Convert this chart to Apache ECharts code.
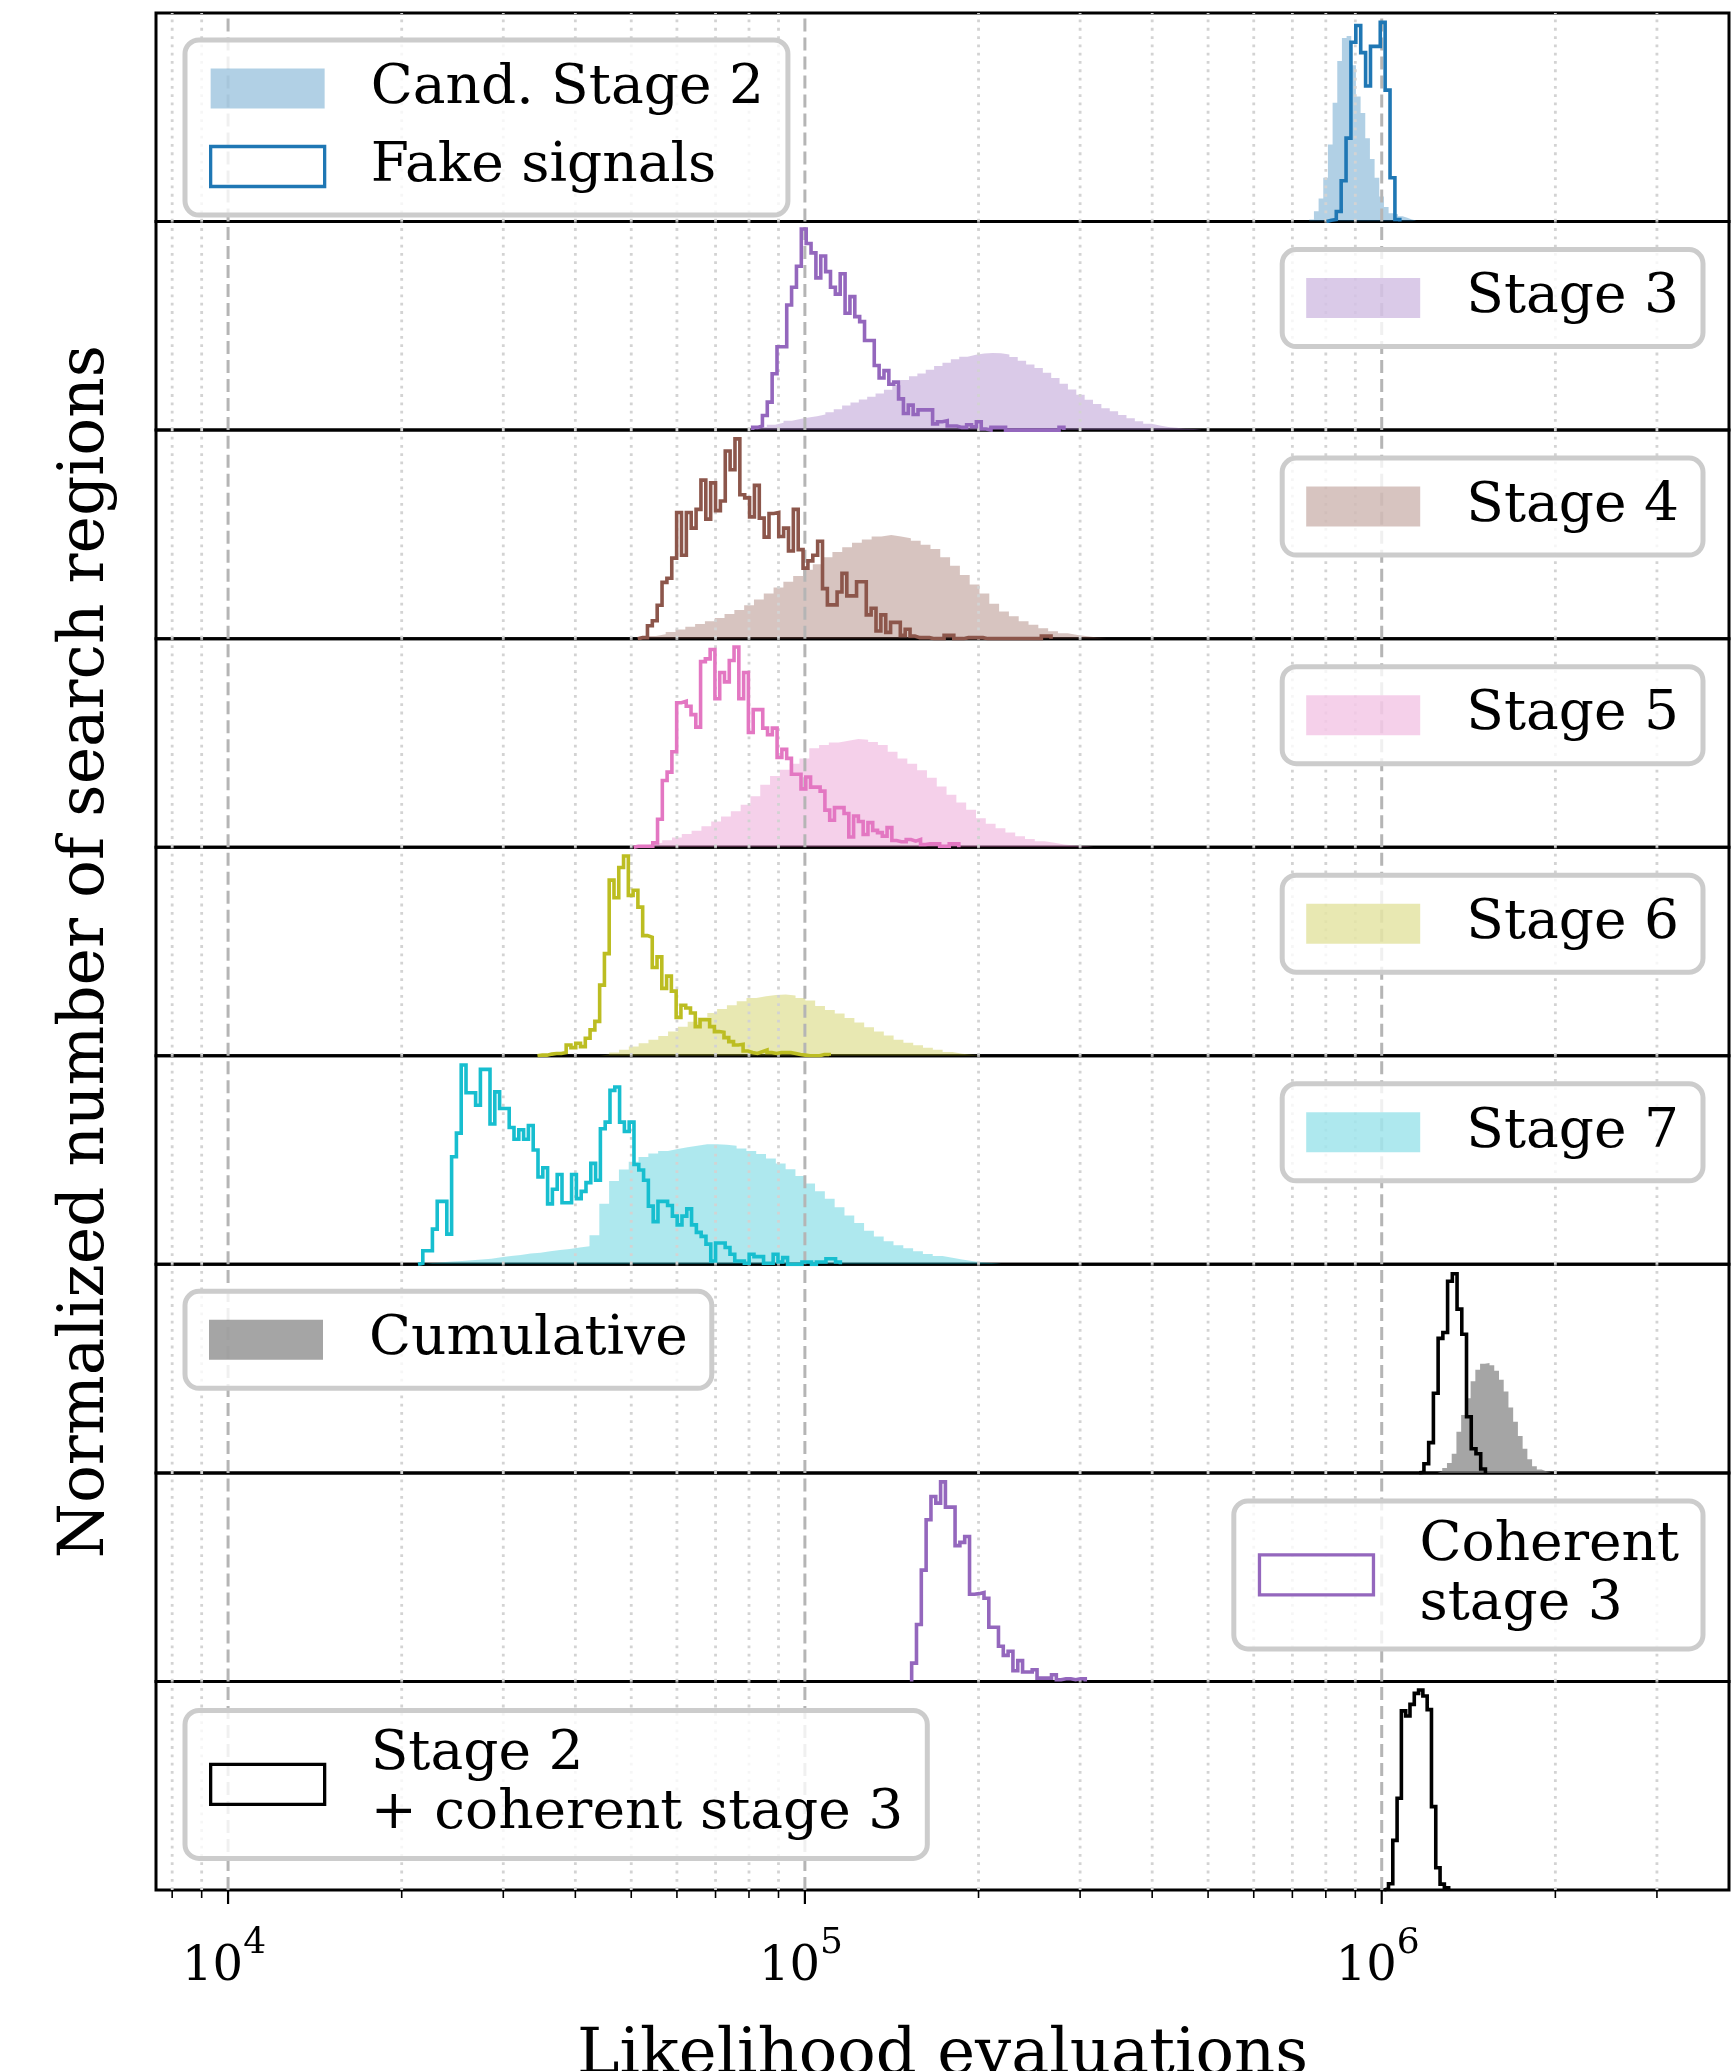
<!DOCTYPE html>
<html><head><meta charset="utf-8">
<script src="https://cdn.jsdelivr.net/npm/echarts@6/dist/echarts.min.js"></script>
<style>html,body{margin:0;padding:0;background:#fff}#c{width:1735px;height:2071px}</style>
</head><body><div id="c"></div>
<script>
// ---------------- DATA (log10 of first bin edge, bin width in dex, normalized heights) ----------------
const xTitle = 'Likelihood evaluations';
const yTitle = 'Normalized number of search regions';
const majorTicks = [1e4, 1e5, 1e6];
const minorTicks = [8e3, 9e3, 2e4, 3e4, 4e4, 5e4, 6e4, 7e4, 8e4, 9e4, 2e5, 3e5, 4e5, 5e5, 6e5, 7e5, 8e5, 9e5, 2e6, 3e6];

// Panel 1
const cand2Lo = 5.8744, cand2Dex = 0.00809;
const cand2H = [0.01,0.05,0.11,0.21,0.37,0.57,0.77,0.88,0.89,0.75,0.60,0.52,0.40,0.30,0.21,0.12,0.07,0.04,0.035,0.025,0.018,0.01,0.005];
const fake1Lo = 5.9043, fake1Dex = 0.00847;
const fake1H = [0.006,0.01,0.048,0.196,0.40,0.86,0.94,0.81,0.65,0.84,0.84,0.955,0.63,0.21,0.01];

// Panel 2
const stage3Lo = 4.905, stage3Dex = 0.0145;
const stage3H = [0.005,0.015,0.026,0.035,0.045,0.053,0.06,0.067,0.075,0.086,
  0.10,0.118,0.132,0.147,0.16,0.175,0.193,0.215,0.24,0.258,
  0.272,0.29,0.307,0.323,0.34,0.352,0.361,0.367,0.37,0.369,
  0.362,0.35,0.333,0.315,0.298,0.275,0.25,0.222,0.195,0.17,
  0.145,0.125,0.105,0.09,0.073,0.057,0.042,0.03,0.022,0.015,
  0.011,0.007,0.005,0.003];
const fake2Lo = 4.9095, fake2Dex = 0.00843;
const fake2H = [0.013,0.02,0.07,0.134,0.27,0.40,0.40,0.60,0.685,0.786,
  0.964,0.895,0.85,0.73,0.835,0.76,0.685,0.652,0.75,0.56,
  0.64,0.544,0.52,0.43,0.43,0.31,0.25,0.285,0.22,0.23,
  0.15,0.08,0.12,0.075,0.097,0.097,0.097,0.03,0.04,0.045,
  0.02,0.02,0.013,0.013,0.026,0.016,0.04,0.005,0,0.013,
  0.013,0.013,0,0,0,0,0,0,0,0,
  0,0,0,0.013];

// Panel 3
const stage4Lo = 4.7247, stage4Dex = 0.017;
const stage4H = [0.013,0.021,0.032,0.044,0.057,0.07,0.084,0.099,0.118,0.138,
  0.16,0.188,0.216,0.245,0.273,0.30,0.33,0.357,0.39,0.415,
  0.438,0.46,0.476,0.49,0.497,0.49,0.482,0.47,0.45,0.43,
  0.39,0.35,0.305,0.26,0.216,0.167,0.13,0.107,0.084,0.067,
  0.05,0.036,0.026,0.018,0.011,0.006,0.003];
const fake3Lo = 4.7102, fake3Dex = 0.00843;
const fake3H = [0.005,0.005,0.062,0.086,0.16,0.27,0.29,0.386,0.605,0.40,
  0.605,0.53,0.62,0.76,0.573,0.747,0.614,0.66,0.90,0.81,
  0.958,0.69,0.675,0.584,0.735,0.578,0.487,0.60,0.605,0.49,
  0.53,0.42,0.62,0.427,0.338,0.373,0.40,0.467,0.24,0.162,
  0.162,0.224,0.313,0.205,0.205,0.273,0.273,0.114,0.146,0.037,
  0.114,0.03,0.078,0.078,0.016,0.045,0.013,0.005,0.005,0.005,
  0,0,0,0.016,0.016,0,0,0.005,0.005,0.005,
  0.005,0,0,0,0,0,0,0,0,0,
  0,0,0,0.013,0.013];

// Panel 4
const stage5Lo = 4.7016, stage5Dex = 0.017;
const stage5H = [0.008,0.013,0.021,0.034,0.047,0.063,0.079,0.10,0.123,0.147,
  0.173,0.204,0.244,0.30,0.341,0.372,0.40,0.426,0.474,0.49,
  0.502,0.511,0.519,0.515,0.505,0.49,0.458,0.426,0.40,0.369,
  0.333,0.291,0.252,0.215,0.18,0.139,0.113,0.091,0.07,0.053,
  0.039,0.029,0.021,0.013,0.008,0.005,0.003];
const fake4Lo = 4.7031, fake4Dex = 0.00829;
const fake4H = [0.005,0.005,0.005,0.005,
  0.021,0.134,0.32,0.36,0.458,0.693,0.70,0.676,0.636,0.576,
  0.89,0.903,0.948,0.712,0.838,0.793,0.895,0.96,0.712,0.838,
  0.55,0.66,0.66,0.571,0.539,0.571,0.43,0.469,0.426,0.35,
  0.35,0.28,0.337,0.288,0.288,0.269,0.178,0.129,0.19,0.19,
  0.162,0.049,0.15,0.123,0.061,0.118,0.081,0.07,0.053,0.094,
  0.032,0.026,0.026,0.037,0.029,0.037,0.013,0.016,0.016,0.016,
  0.005,0.005,0.016,0.016];

// Panel 5
const stage6Lo = 4.6438, stage6Dex = 0.017;
const stage6H = [0.006,0.016,0.029,0.045,0.06,0.077,0.095,0.116,0.139,0.163,
  0.185,0.205,0.224,0.242,0.261,0.277,0.285,0.292,0.294,0.289,
  0.277,0.265,0.239,0.219,0.203,0.181,0.16,0.137,0.116,0.097,
  0.077,0.063,0.05,0.039,0.029,0.018,0.01,0.005,0.002];
const fake5Lo = 4.5364, fake5Dex = 0.00829;
const fake5H = [0.003,0.003,0.008,0.011,0.011,0.016,0.052,0.039,0.06,0.044,
  0.084,0.124,0.165,0.339,0.49,0.842,0.758,0.903,0.958,0.769,
  0.794,0.713,0.576,0.568,0.423,0.474,0.323,0.382,0.31,0.184,
  0.242,0.229,0.205,0.14,0.173,0.173,0.14,0.116,0.113,0.087,
  0.068,0.052,0.055,0.023,0.016,0.011,0.019,0.027,0.016,0.011,
  0.016,0.016,0.016,0.011,0.006,0.003,0,0,0,0.006,0.006];

// Panel 6
const stage7Lo = 4.3376, stage7Dex = 0.017;
const stage7H = [0.006,0.01,0.013,0.016,0.019,0.023,0.027,0.034,0.04,0.045,
  0.052,0.056,0.063,0.069,0.074,0.081,0.087,0.14,0.29,0.40,
  0.455,0.492,0.515,0.532,0.544,0.553,0.561,0.569,0.576,0.576,
  0.573,0.568,0.556,0.544,0.529,0.508,0.484,0.456,0.424,0.387,
  0.35,0.315,0.274,0.234,0.198,0.161,0.134,0.111,0.092,0.077,
  0.063,0.05,0.04,0.031,0.023,0.016,0.01,0.006,0.003];
const fake6Lo = 4.3293, fake6Dex = 0.00832;
const fake6H = [0.005,0.065,0.065,0.169,0.302,0.302,0.145,0.516,0.629,0.956,
  0.823,0.823,0.763,0.935,0.935,0.673,0.827,0.747,0.747,0.656,
  0.60,0.645,0.60,0.666,0.548,0.419,0.463,0.29,0.36,0.431,
  0.295,0.295,0.431,0.315,0.35,0.392,0.484,0.403,0.65,0.682,
  0.834,0.85,0.682,0.637,0.682,0.479,0.452,0.403,0.279,0.205,
  0.302,0.302,0.282,0.231,0.189,0.231,0.266,0.189,0.153,0.134,
  0.097,0.016,0.102,0.102,0.081,0.048,0.016,0.016,0.005,0.048,
  0.037,0.037,0.005,0.005,0.048,0.011,0.032,0,0,0,
  0.011,0.011,0,0.011,0.011,0.027,0.027,0.011];

// Panel 7
const cumLo = 6.0967, cumDex = 0.0082;
const cumH = [0.008,0.023,0.048,0.092,0.197,0.277,0.358,0.439,0.495,0.523,
  0.527,0.516,0.49,0.447,0.39,0.313,0.245,0.177,0.116,0.065,
  0.032,0.016,0.008,0.003];
const cumFakeLo = 6.065, cumFakeDex = 0.0082;
const cumFakeH = [0.003,0.044,0.145,0.382,0.645,0.673,0.919,0.955,0.785,0.665,0.269,0.116,0.092,0.019];

// Panel 8
const coh3Lo = 5.1851, coh3Dex = 0.00836;
const coh3H = [0.088,0.273,0.534,0.775,0.887,0.855,0.957,0.836,0.836,0.651,
  0.667,0.695,0.418,0.421,0.426,0.399,0.26,0.26,0.169,0.125,
  0.145,0.051,0.10,0.045,0.045,0.056,0.016,0.016,0.016,0.032,
  0.008,0.013,0.013,0.008,0.013,0.013];

// Panel 9
const s2cohLo = 6.0043, s2cohDex = 0.00745;
const s2cohH = [0.006,0.03,0.238,0.44,0.859,0.834,0.89,0.943,0.959,0.93,0.865,0.40,0.107,0.028,0.011];

// ---------------- LAYOUT / STYLE ----------------
const FONT = 'DejaVu Serif';
const NP = 9, TOP0 = 13, BOT = 1890, PH = (BOT - TOP0) / NP;
const LEFT = 156, RIGHT = 6;
const XMIN = 7500, XMAX = 4e6;
const C = {blue:'#1f77b4', purple:'#9467bd', brown:'#8c564b', pink:'#e377c2', olive:'#bcbd22', cyan:'#17becf', gray:'#7f7f7f', black:'#000000'};
function rgba(hex, a){const n=parseInt(hex.slice(1),16);return 'rgba('+((n>>16)&255)+','+((n>>8)&255)+','+(n&255)+','+a+')';}
const FA = 0.35;
function pt(i){return TOP0 + i*PH;}

function stepPts(lo, dex, h){
  const pts = [[Math.pow(10, lo), 0]];
  for (let i = 0; i < h.length; i++){
    pts.push([Math.pow(10, lo + i*dex), h[i]]);
    pts.push([Math.pow(10, lo + (i+1)*dex), h[i]]);
  }
  pts.push([Math.pow(10, lo + h.length*dex), 0]);
  return pts;
}
const series = [];
function fillHist(name, gi, lo, dex, h, color, alpha){
  series.push({type:'line', name, xAxisIndex:gi, yAxisIndex:gi, data:stepPts(lo,dex,h), showSymbol:false, symbol:'none',
    color, lineStyle:{width:0, opacity:0}, areaStyle:{color:rgba(color, alpha), opacity:1}, z:1, silent:true, animation:false});
}
function stepHist(name, gi, lo, dex, h, color){
  series.push({type:'line', name, xAxisIndex:gi, yAxisIndex:gi, data:stepPts(lo,dex,h), showSymbol:false, symbol:'none',
    color, lineStyle:{width:3.6, color, join:'miter', cap:'butt'}, z:3, silent:true, animation:false});
}

fillHist('Cand. Stage 2', 0, cand2Lo, cand2Dex, cand2H, C.blue, FA);
stepHist('Fake signals', 0, fake1Lo, fake1Dex, fake1H, C.blue);
fillHist('Stage 3', 1, stage3Lo, stage3Dex, stage3H, C.purple, FA);
stepHist('Fake 3', 1, fake2Lo, fake2Dex, fake2H, C.purple);
fillHist('Stage 4', 2, stage4Lo, stage4Dex, stage4H, C.brown, FA);
stepHist('Fake 4', 2, fake3Lo, fake3Dex, fake3H, C.brown);
fillHist('Stage 5', 3, stage5Lo, stage5Dex, stage5H, C.pink, FA);
stepHist('Fake 5', 3, fake4Lo, fake4Dex, fake4H, C.pink);
fillHist('Stage 6', 4, stage6Lo, stage6Dex, stage6H, C.olive, FA);
stepHist('Fake 6', 4, fake5Lo, fake5Dex, fake5H, C.olive);
fillHist('Stage 7', 5, stage7Lo, stage7Dex, stage7H, C.cyan, FA);
stepHist('Fake 7', 5, fake6Lo, fake6Dex, fake6H, C.cyan);
fillHist('Cumulative', 6, cumLo, cumDex, cumH, C.gray, 0.7);
stepHist('Fake cumulative', 6, cumFakeLo, cumFakeDex, cumFakeH, C.black);
stepHist('Coherent stage 3', 7, coh3Lo, coh3Dex, coh3H, C.purple);
stepHist('Stage 2 + coherent stage 3', 8, s2cohLo, s2cohDex, s2cohH, C.black);

// grid lines + ticks through the axis scale
const tickData = majorTicks.map(v => [v, 1]).concat(minorTicks.map(v => [v, 0]));
function gridRender(params, api){
  const v = api.value(0), major = api.value(1);
  const a = api.coord([v, 0]), b = api.coord([v, 1]);
  return {type:'line', silent:true, shape:{x1:a[0], y1:a[1], x2:a[0], y2:b[1]},
    style: major ? {stroke:'#b5b5b5', lineWidth:3, lineDash:[13,6]} : {stroke:'#d3d3d3', lineWidth:2.8, lineDash:[2.8,5.5]}};
}
for (let i = 0; i < NP; i++){
  series.push({type:'custom', name:'grid'+i, xAxisIndex:i, yAxisIndex:i, data:tickData, renderItem:gridRender, z:2, silent:true, animation:false});
}
series.push({type:'custom', name:'ticks', xAxisIndex:NP-1, yAxisIndex:NP-1, data:tickData, clip:false, z:5, silent:true, animation:false,
  renderItem: function(params, api){
    const v = api.value(0), major = api.value(1);
    const a = api.coord([v, 0]);
    const ch = [{type:'line', shape:{x1:a[0], y1:a[1], x2:a[0], y2:a[1] + (major ? 14 : 8)}, style:{stroke:'#000', lineWidth: major ? 2.2 : 1.6}}];
    if (major){
      const e = Math.round(Math.log10(v));
      ch.push({type:'text', x:a[0] - 4, y:a[1] + 36, style:{text:'{b|10}{s|' + e + '}', align:'center', verticalAlign:'top',
        rich:{b:{fontFamily:FONT, fontSize:48, lineHeight:66, verticalAlign:'bottom', fill:'#000'},
              s:{fontFamily:FONT, fontSize:36, lineHeight:66, verticalAlign:'top', fill:'#000'}}}});
    }
    return {type:'group', children:ch};
  }});

const grids = [], xAxes = [], yAxes = [];
for (let i = 0; i < NP; i++){
  grids.push({left:LEFT, right:RIGHT, top:pt(i), height:PH, show:true, borderColor:'#000', borderWidth:3, backgroundColor:'rgba(0,0,0,0)',
    containLabel:false, outerBoundsMode:'none'});
  const xa = {type:'log', logBase:10, gridIndex:i, min:XMIN, max:XMAX,
    axisLine:{show:false}, axisTick:{show:false}, axisLabel:{show:false}, splitLine:{show:false}, minorTick:{show:false}, minorSplitLine:{show:false}};
  if (i === NP-1){
    Object.assign(xa, {name:xTitle, nameLocation:'middle', nameGap:134, nameTextStyle:{fontFamily:FONT, fontSize:64, color:'#000'}});
  }
  xAxes.push(xa);
  const ya = {type:'value', gridIndex:i, min:0, max:1, axisLine:{show:false}, axisTick:{show:false}, axisLabel:{show:false}, splitLine:{show:false}};
  if (i === 4){
    Object.assign(ya, {name:yTitle, nameLocation:'middle', nameGap:38, nameTextStyle:{fontFamily:FONT, fontSize:63, color:'#000'}});
  }
  yAxes.push(ya);
}

const legendBase = {icon:'rect', itemWidth:114, itemHeight:40, selectedMode:false, orient:'vertical', itemGap:19,
  borderColor:'#cccccc', borderWidth:5, borderRadius:14, backgroundColor:'rgba(255,255,255,0.8)', padding:[19,24],
  textStyle:{fontFamily:FONT, fontSize:55, lineHeight:59, color:'#000', padding:[0,0,0,41]}};
function filledItem(name, color, a){return {name, itemStyle:{color:rgba(color, a), borderWidth:0}};}
function outlineItem(name, color){return {name, itemStyle:{color:'rgba(255,255,255,0)', borderColor:color, borderWidth:3.3}};}
const legends = [
  Object.assign({}, legendBase, {left:185, top:pt(0)+27, padding:[19,24], data:[filledItem('Cand. Stage 2', C.blue, FA), outlineItem('Fake signals', C.blue)]}),
  Object.assign({}, legendBase, {right:32, top:pt(1)+28, data:[filledItem('Stage 3', C.purple, FA)]}),
  Object.assign({}, legendBase, {right:32, top:pt(2)+28, data:[filledItem('Stage 4', C.brown, FA)]}),
  Object.assign({}, legendBase, {right:32, top:pt(3)+28, data:[filledItem('Stage 5', C.pink, FA)]}),
  Object.assign({}, legendBase, {right:32, top:pt(4)+28, data:[filledItem('Stage 6', C.olive, FA)]}),
  Object.assign({}, legendBase, {right:32, top:pt(5)+28, data:[filledItem('Stage 7', C.cyan, FA)]}),
  Object.assign({}, legendBase, {left:185, top:pt(6)+27, data:[filledItem('Cumulative', C.gray, 0.7)]}),
  Object.assign({}, legendBase, {right:32, top:pt(7)+28, padding:[15,24], data:[outlineItem('Coherent stage 3', C.purple)], formatter:function(){return 'Coherent\nstage 3';}}),
  Object.assign({}, legendBase, {left:185, top:pt(8)+29, padding:[15,24], data:[outlineItem('Stage 2 + coherent stage 3', C.black)], formatter:function(){return 'Stage 2\n+ coherent stage 3';}})
];

const chart = echarts.init(document.getElementById('c'), null, {renderer:'canvas', width:1735, height:2071});
chart.setOption({backgroundColor:'#ffffff', animation:false, grid:grids, xAxis:xAxes, yAxis:yAxes, legend:legends, series});
</script></body></html>
